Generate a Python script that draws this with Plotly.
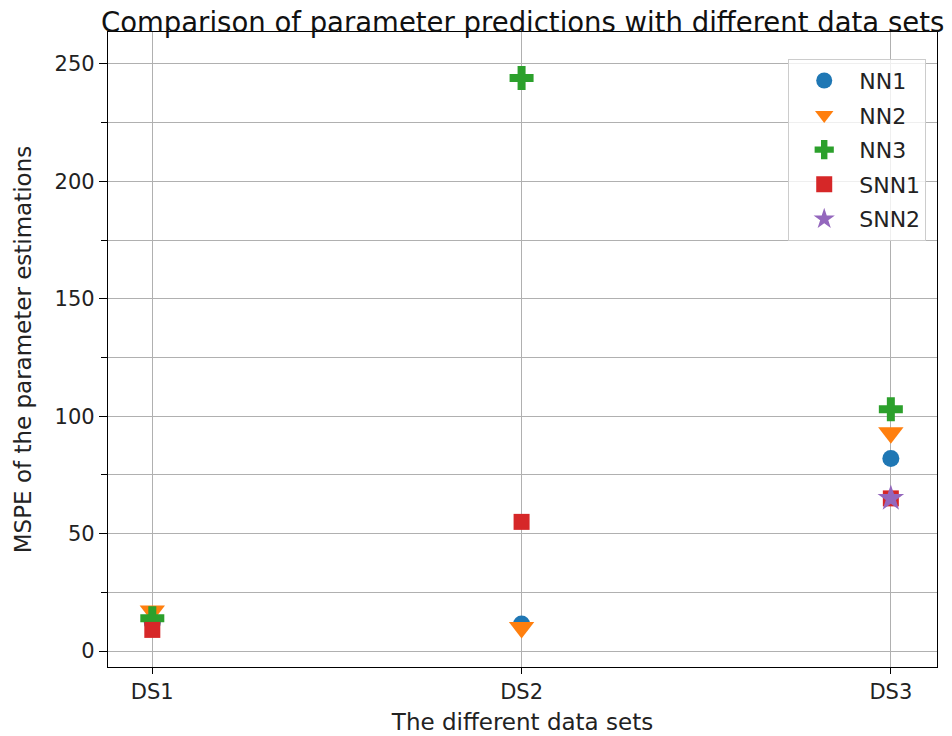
import plotly.graph_objects as go

datasets = ["DS1", "DS2", "DS3"]
xpos = [0, 1, 2]
nn1 = [12, 11.5, 82]
nn2 = [17, 10, 93]
nn3 = [14, 244, 103]
snn1 = [9, 55, 65]
snn2 = [None, None, 65]

series = [
    ("NN1", nn1, "circle", 17, "#1f77b4"),
    ("NN2", nn2, "triangle-down", 22, "#ff7f0e"),
    ("NN3", nn3, "cross", 20, "#2ca02c"),
    ("SNN1", snn1, "square", 16, "#d62728"),
    ("SNN2", snn2, "star", 20, "#9467bd"),
]

fig = go.Figure()
for i, (name, vals, sym, size, col) in enumerate(series):
    fig.add_trace(go.Scatter(
        x=xpos, y=vals, mode="markers", name=name,
        legendgroup=f"g{i}",
        marker=dict(symbol=sym, size=size, color=col, line=dict(width=0)),
    ))

font = "DejaVu Sans, sans-serif"
fig.update_layout(
    width=952, height=736,
    margin=dict(l=108, r=15, t=32, b=69),
    plot_bgcolor="white", paper_bgcolor="white",
    font=dict(family=font, size=21, color="#222"),
    title=dict(text="Comparison of parameter predictions with different data sets",
               x=0.549, xanchor="center", y=0.970, yanchor="middle",
               font=dict(size=27.5, color="#111"), automargin=False),
    legend=dict(x=0.987, y=0.958, xanchor="right", yanchor="top",
                bgcolor="rgba(255,255,255,0.8)", bordercolor="#cccccc", borderwidth=1,
                font=dict(size=22), tracegroupgap=3, itemwidth=60),
    showlegend=True,
)
fig.update_xaxes(
    range=[-0.12, 2.125], tickvals=xpos, ticktext=datasets, automargin=False,
    showgrid=True, gridcolor="#b0b0b0", gridwidth=1,
    showline=True, linecolor="black", linewidth=1.3, mirror=True,
    ticks="outside", ticklen=6, tickcolor="black", zeroline=False,
    title=dict(text="The different data sets", font=dict(size=23), standoff=10),
    tickfont=dict(size=21),
)
fig.update_yaxes(
    range=[-6.8, 263.6], tickvals=[0, 50, 100, 150, 200, 250], automargin=False,
    showgrid=True, gridcolor="#b0b0b0", gridwidth=1,
    showline=True, linecolor="black", linewidth=1.3, mirror=True,
    ticks="outside", ticklen=8, tickcolor="black", zeroline=False,
    minor=dict(tickvals=[25, 75, 125, 175, 225], ticks="outside", ticklen=6,
               tickcolor="black", showgrid=True, gridcolor="#b0b0b0", gridwidth=1),
    title=dict(text="MSPE of the parameter estimations", font=dict(size=23), standoff=16),
    tickfont=dict(size=21),
)
fig.write_html("out.html")
